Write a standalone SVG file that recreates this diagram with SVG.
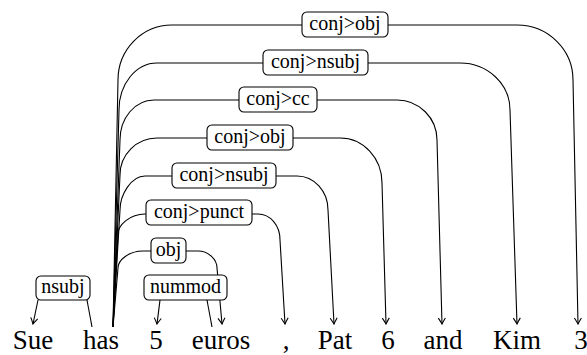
<svg xmlns="http://www.w3.org/2000/svg" width="587" height="355" viewBox="0 0 587 355">
<style>
text{fill:#000;text-anchor:middle}
.w{font-size:27px}
.l{font-size:20px}
.b{fill:#fff;stroke:#000;stroke-width:1.1}
.e{fill:none;stroke:#000;stroke-width:1.1}
.a{marker-end:url(#arr)}
</style>
<defs>
<marker id="arr" viewBox="-8 -5 10 10" refX="0" refY="0" markerWidth="10" markerHeight="10" markerUnits="userSpaceOnUse" orient="auto">
<path d="M-6,-3.5 Q-2,-1 0,0 Q-2,1 -6,3.5" fill="none" stroke="#000" stroke-width="1.1"/>
</marker>
</defs>
<g id="edges">
<path class="e a" d="M113,327 L118,80 C118,49.6 142.2,25 172,25 L517,25 C547.9,25 573,49.6 573,80 L578,324"/>
<path class="e a" d="M113,327 L119,110 C119,84 136,63 157,63 L460,63 C487.6,63 510,84 510,110 L517,324"/>
<path class="e a" d="M113,327 L120,140 C120,118 135,100 154,100 L397,100 C419,100 437,118 437,140 L442,324"/>
<path class="e a" d="M113,327 L120,175 C120,154.6 136.6,138 157,138 L340,138 C363.2,138 382,158 382,183 L386,324"/>
<path class="e a" d="M113,327 L120,210 C120,195 131,176 145,176 L297,176 C314,176 328,191 328,210 L334,324"/>
<path class="e a" d="M113,327 L118,234 C118,225 130,214 145,214 L258,214 C270,214 280,225 280,240 L285,324"/>
<path class="e a" d="M113,327 L118,268 C118,260 129,251 143,251 L198,251 C208,251 217,259 217,268 L222,324"/>
<path class="e a" d="M160,300 L157,324"/>
<path class="e" d="M207,300 L212,327"/>
<path class="e a" d="M38,300 L33,324"/>
<path class="e" d="M87,300 L92,327"/>
</g>
<g font-family="Liberation Serif, Times New Roman, serif">
<g id="lbl-conj-obj-1"><rect class="b" x="302" y="12" width="86" height="25" rx="5"/><text class="l" x="345" y="30">conj&gt;obj</text></g>
<g id="lbl-conj-nsubj-1"><rect class="b" x="263" y="50" width="105" height="25" rx="5"/><text class="l" x="315.5" y="68">conj&gt;nsubj</text></g>
<g id="lbl-conj-cc"><rect class="b" x="239" y="87" width="78" height="25" rx="5"/><text class="l" x="278" y="105">conj&gt;cc</text></g>
<g id="lbl-conj-obj-2"><rect class="b" x="207" y="125" width="86" height="25" rx="5"/><text class="l" x="250" y="143">conj&gt;obj</text></g>
<g id="lbl-conj-nsubj-2"><rect class="b" x="172" y="163" width="104" height="25" rx="5"/><text class="l" x="224" y="181">conj&gt;nsubj</text></g>
<g id="lbl-conj-punct"><rect class="b" x="146" y="200" width="106" height="25" rx="5"/><text class="l" x="199" y="218">conj&gt;punct</text></g>
<g id="lbl-obj"><rect class="b" x="151" y="238" width="35" height="25" rx="5"/><text class="l" x="168.5" y="256">obj</text></g>
<g id="lbl-nummod"><rect class="b" x="144" y="275" width="83" height="25" rx="5"/><text class="l" x="185.5" y="293">nummod</text></g>
<g id="lbl-nsubj"><rect class="b" x="36" y="276" width="54" height="24" rx="5"/><text class="l" x="63" y="293">nsubj</text></g>
<g id="words">
<text class="w" x="33" y="349">Sue</text>
<text class="w" x="101" y="349">has</text>
<text class="w" x="156" y="349">5</text>
<text class="w" x="221" y="349">euros</text>
<text class="w" x="286" y="349">,</text>
<text class="w" x="335" y="349">Pat</text>
<text class="w" x="388" y="349">6</text>
<text class="w" x="443" y="349">and</text>
<text class="w" x="517" y="349">Kim</text>
<text class="w" x="581" y="349">3</text>
</g>
</g>
</svg>
